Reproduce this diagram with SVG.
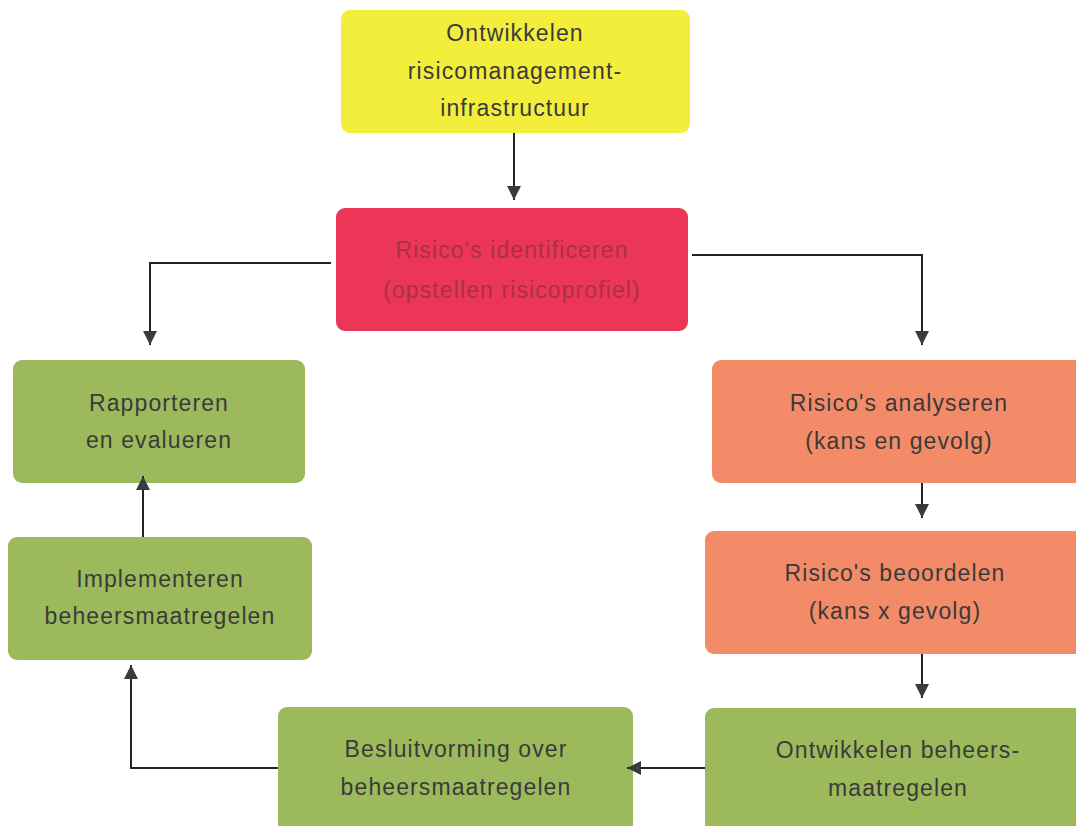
<svg xmlns="http://www.w3.org/2000/svg" width="1076" height="826" viewBox="0 0 1076 826">
<style>
.box{stroke:none}
.y{fill:#f3ee3c}
.r{fill:#eb3658}
.o{fill:#f48b68}
.g{fill:#9cba5c}
text{font-family:"Liberation Sans",Arial,sans-serif;font-size:23px;text-anchor:middle;fill:#3a3a3a;letter-spacing:1.1px}
.rt{fill:#a8323f}
.c{fill:none;stroke:#222;stroke-width:2}
</style>
<defs>
<marker id="ah" viewBox="0 0 14 14" refX="14" refY="7" markerWidth="15" markerHeight="14" markerUnits="userSpaceOnUse" orient="auto">
<path d="M0,0 L14,7 L0,14 Z" fill="#3a3a40"/>
</marker>
</defs>
<rect width="1076" height="826" fill="#ffffff"/>
<g id="n-infra">
<rect class="box y" x="341" y="10" width="349" height="123" rx="9"/>
<text x="515" y="41">Ontwikkelen</text>
<text x="515" y="79">risicomanagement-</text>
<text x="515" y="116">infrastructuur</text>
</g>
<g id="n-identificeren">
<rect class="box r" x="336" y="208" width="352" height="123" rx="9"/>
<text class="rt" x="512" y="258">Risico's identificeren</text>
<text class="rt" x="512" y="298">(opstellen risicoprofiel)</text>
</g>
<g id="n-rapporteren">
<rect class="box g" x="13" y="360" width="292" height="123" rx="9"/>
<text x="159" y="411">Rapporteren</text>
<text x="159" y="448">en evalueren</text>
</g>
<g id="n-analyseren">
<rect class="box o" x="712" y="360" width="374" height="123" rx="9"/>
<text x="899" y="411">Risico's analyseren</text>
<text x="899" y="449">(kans en gevolg)</text>
</g>
<g id="n-beoordelen">
<rect class="box o" x="705" y="531" width="381" height="123" rx="9"/>
<text x="895" y="581">Risico's beoordelen</text>
<text x="895" y="619">(kans x gevolg)</text>
</g>
<g id="n-ontwikkelen-beheers">
<rect class="box g" x="705" y="708" width="381" height="128" rx="9"/>
<text x="898" y="758">Ontwikkelen beheers-</text>
<text x="898" y="796">maatregelen</text>
</g>
<g id="n-besluitvorming">
<rect class="box g" x="278" y="707" width="355" height="129" rx="9"/>
<text x="456" y="757">Besluitvorming over</text>
<text x="456" y="795">beheersmaatregelen</text>
</g>
<g id="n-implementeren">
<rect class="box g" x="8" y="537" width="304" height="123" rx="9"/>
<text x="160" y="587">Implementeren</text>
<text x="160" y="624">beheersmaatregelen</text>
</g>
<g id="connectors">
<path class="c" d="M514,133 V200" marker-end="url(#ah)"/>
<path class="c" d="M331,263 H150 V345" marker-end="url(#ah)"/>
<path class="c" d="M692,255 H922 V345" marker-end="url(#ah)"/>
<path class="c" d="M922,483 V518" marker-end="url(#ah)"/>
<path class="c" d="M922,654 V698" marker-end="url(#ah)"/>
<path class="c" d="M705,768 H627" marker-end="url(#ah)"/>
<path class="c" d="M278,768 H131 V665" marker-end="url(#ah)"/>
<path class="c" d="M143,537 V476" marker-end="url(#ah)"/>
</g>
</svg>
